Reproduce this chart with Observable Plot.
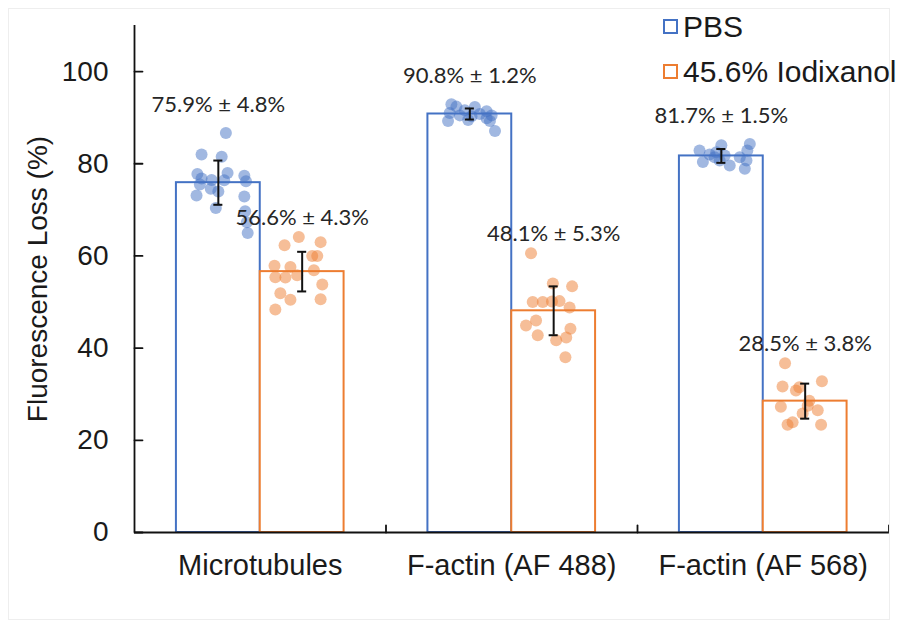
<!DOCTYPE html>
<html>
<head>
<meta charset="utf-8">
<script src="https://cdn.jsdelivr.net/npm/d3@7"></script>
<script src="https://cdn.jsdelivr.net/npm/@observablehq/plot@0.6"></script>
<style>
  html, body { margin: 0; padding: 0; background: #fff; }
  #wrap { position: relative; width: 899px; height: 629px; overflow: hidden; }
  #frame { position: absolute; left: 8px; top: 8px; width: 882px; height: 612px; border: 1px solid #eeeeee; box-sizing: border-box; }
  #legend { position: absolute; left: 663px; top: 4px; font-family: "Liberation Sans", Arial, sans-serif; font-size: 30px; color: #1a1a1a; }
  #legend .row { display: flex; align-items: center; height: 45px; }
  #legend .sw { width: 11px; height: 11px; border: 2px solid; margin-right: 5px; box-sizing: content-box; }
</style>
</head>
<body>
<div id="wrap">
  <div id="frame"></div>
  <div id="chart"></div>
  <div id="legend"></div>
</div>
<script>
// ---- data ----
const categories = ["Microtubules", "F-actin (AF 488)", "F-actin (AF 568)"];
const seriesNames = ["PBS", "45.6% Iodixanol"];
const seriesColors = ["#4472C4", "#ED7D31"];
const pbsMean = [75.9, 90.8, 81.7];
const pbsSD = [4.8, 1.2, 1.5];
const iodMean = [56.6, 48.1, 28.5];
const iodSD = [4.3, 5.3, 3.8];
const yTicks = [0, 20, 40, 60, 80, 100];

// individual measurements (value) and horizontal scatter (fraction of bar width)
const pbsPoints = [
  [86.7, 82.0, 81.5, 78.0, 77.8, 77.4, 76.8, 76.5, 76.4, 76.2, 75.5, 74.6, 74.0, 73.1, 72.9, 70.4, 69.7, 67.3, 65.0],
  [92.9, 92.4, 92.3, 91.6, 91.4, 91.0, 90.8, 90.5, 90.5, 90.3, 89.9, 89.5, 89.3, 89.3, 87.1],
  [84.3, 84.0, 82.9, 82.9, 82.0, 81.4, 81.4, 80.7, 80.7, 80.4, 79.6, 78.9, 81.8, 82.5]
];
const pbsJitter = [
  [0.09, -0.2, 0.04, 0.11, -0.25, 0.31, -0.2, -0.08, 0.07, 0.33, -0.22, -0.09, 0, -0.26, 0.31, -0.03, 0.32, 0.34, 0.35],
  [-0.22, -0.16, 0.06, -0.06, 0.2, -0.24, 0.12, -0.12, 0.26, 0.02, 0.2, -0.02, -0.26, 0.24, 0.3],
  [0.34, 0, -0.26, 0.31, -0.14, -0.08, 0.22, -0.02, 0.3, -0.22, 0.1, 0.28, 0.04, -0.06]
];
const iodPoints = [
  [64.1, 63.0, 62.3, 60.0, 60.0, 57.9, 57.6, 56.9, 55.8, 55.4, 55.3, 53.8, 51.9, 50.5, 50.6, 48.4],
  [60.6, 54.0, 53.4, 50.0, 50.0, 50.1, 50.2, 48.8, 46.0, 44.9, 44.2, 42.8, 41.7, 42.3, 38.0],
  [36.7, 32.8, 31.7, 30.8, 31.5, 28.6, 27.3, 27.5, 26.5, 25.8, 23.4, 23.4, 23.9]
];
const iodJitter = [
  [-0.04, 0.22, -0.21, 0.12, 0.18, -0.33, -0.14, 0.14, -0.06, -0.32, -0.2, 0.24, -0.26, -0.14, 0.22, -0.32],
  [-0.27, -0.01, 0.22, -0.25, -0.13, -0.02, 0.07, 0.19, -0.21, -0.33, 0.2, -0.19, 0.03, 0.15, 0.14],
  [-0.24, 0.2, -0.27, -0.11, -0.07, 0.05, -0.29, 0.03, 0.15, -0.03, 0.19, -0.21, -0.15]
];

// ---- build tables ----
const barW = 1 / 3;               // bar width in category units
const means = [pbsMean, iodMean];
const sds = [pbsSD, iodSD];
const pts = [pbsPoints, iodPoints];
const jit = [pbsJitter, iodJitter];

const bars = categories.flatMap((c, i) => seriesNames.map((s, j) => {
  const x1 = i + (1 - 2 * barW) / 2 + j * barW;
  return {
    cat: c, series: s, j,
    x1, x2: x1 + barW, xc: x1 + barW / 2,
    mean: means[j][i], sd: sds[j][i],
    top: d3.max(pts[j][i]),
    label: `${means[j][i].toFixed(1)}% ± ${sds[j][i].toFixed(1)}%`
  };
}));
const dots = bars.flatMap(b => {
  const i = categories.indexOf(b.cat);
  return pts[b.j][i].map((v, k) => ({series: b.series, j: b.j, value: v, x: b.xc + jit[b.j][i][k] * barW}));
});

const color = j => seriesColors[j];
const capHalf = 0.018;
const tickShape = {draw(ctx, l) { ctx.moveTo(0, 0); ctx.lineTo(0, -l); }};

const chart = Plot.plot({
  width: 899,
  height: 629,
  marginLeft: 134,
  marginRight: 10.5,
  marginTop: 25,
  marginBottom: 97,
  style: {fontFamily: '"Liberation Sans", Arial, sans-serif', fontSize: "28px", color: "#1a1a1a", background: "transparent"},
  x: {domain: [0, categories.length], axis: null},
  y: {domain: [0, 110], axis: null},
  marks: [
    Plot.rectY(bars, {x1: "x1", x2: "x2", y: "mean", fill: "white", stroke: d => color(d.j), strokeWidth: 2}),
    Plot.dot(dots, {x: "x", y: "value", r: 6, fill: d => color(d.j), fillOpacity: 0.5, stroke: "none"}),
    Plot.ruleX(bars, {x: "xc", y1: d => d.mean - d.sd, y2: d => d.mean + d.sd, stroke: "#111", strokeWidth: 2}),
    Plot.ruleY(bars, {y: d => d.mean + d.sd, x1: d => d.xc - capHalf, x2: d => d.xc + capHalf, stroke: "#111", strokeWidth: 2}),
    Plot.ruleY(bars, {y: d => d.mean - d.sd, x1: d => d.xc - capHalf, x2: d => d.xc + capHalf, stroke: "#111", strokeWidth: 2}),
    Plot.text(bars, {x: "xc", y: "top", text: "label", fontFamily: 'Lato, "Open Sans", sans-serif', fontSize: 22, fill: "#262626",
      filter: d => d.j === 0, dy: -28}),
    Plot.text(bars, {x: "xc", y: "top", text: "label", fontFamily: 'Lato, "Open Sans", sans-serif', fontSize: 22, fill: "#262626",
      filter: d => d.j === 1, dy: -19}),
    // axes
    Plot.ruleX([0], {stroke: "#111", strokeWidth: 1.8}),
    Plot.ruleY([0], {stroke: "#111", strokeWidth: 1.8}),
    Plot.vector(yTicks, {x: 0, y: d => d, length: 8, rotate: 90, anchor: "start", stroke: "#111", strokeWidth: 1.8, shape: tickShape}),
    Plot.vector(d3.range(1, categories.length + 1), {x: d => d, y: 0, length: 7, rotate: 0, anchor: "start", stroke: "#111", strokeWidth: 1.8, shape: tickShape}),
    Plot.axisY({ticks: yTicks, tickSize: 0, tickPadding: 26, fontSize: 28, label: null}),
    Plot.axisX({ticks: categories.map((c, i) => i + 0.5), tickFormat: v => categories[Math.round(v - 0.5)], tickSize: 0, tickPadding: 22, fontSize: 29, label: null}),
    Plot.text(["Fluorescence Loss (%)"], {frameAnchor: "left", textAnchor: "middle", rotate: -90, dx: -96, fontSize: 28, fill: "#1a1a1a"})
  ]
});
document.getElementById("chart").appendChild(chart);

// legend
const legend = document.getElementById("legend");
seriesNames.forEach((s, j) => {
  const row = document.createElement("div");
  row.className = "row";
  const sw = document.createElement("span");
  sw.className = "sw";
  sw.style.borderColor = seriesColors[j];
  const t = document.createElement("span");
  t.textContent = s;
  row.appendChild(sw);
  row.appendChild(t);
  legend.appendChild(row);
});
</script>
</body>
</html>
